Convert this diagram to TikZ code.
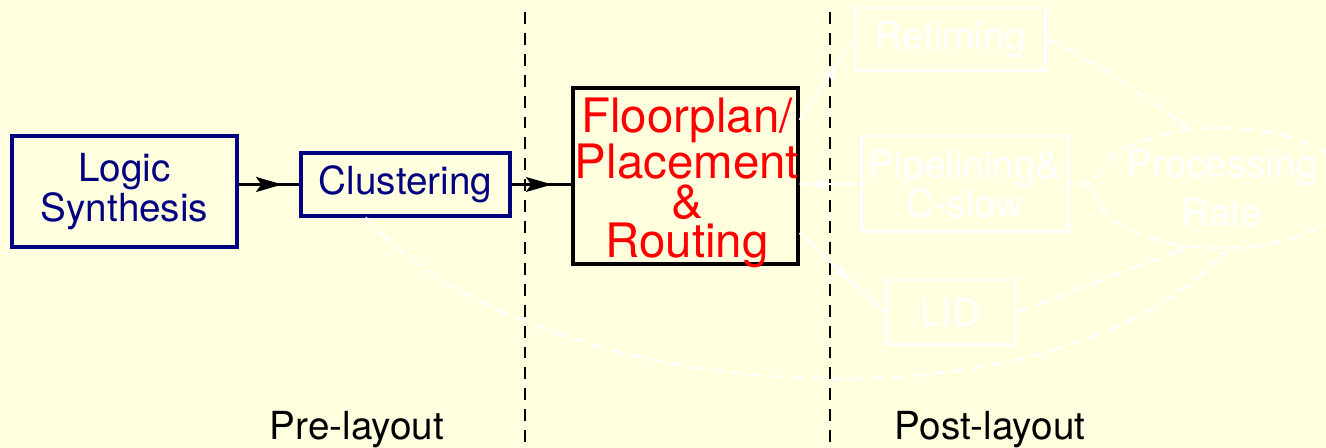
\documentclass[tikz,border=0pt]{standalone}
\usepackage{fontspec}
\setmainfont{TeX Gyre Heros}
\usetikzlibrary{arrows.meta,shapes.geometric,decorations.markings}
\definecolor{slidebg}{RGB}{255,255,224}
\definecolor{navyblue}{RGB}{0,0,128}
\begin{document}
\begin{tikzpicture}[x=0.02cm, y=-0.02cm, font=\fontsize{22}{22}\selectfont,
	flowbox/.style={draw=navyblue, line width=1.8pt, text=navyblue, inner sep=0pt, align=center},
	laterbox/.style={draw=white, line width=1.7pt, text=white, inner sep=0pt, align=center},
	divider/.style={line width=1.6pt, dash pattern=on 6.8pt off 5.1pt},
	blackarrow/.style={line width=1.2pt, postaction={decorate}, decoration={markings, mark=at position #1 with {\arrow{Stealth[length=15pt, width=8.5pt, inset=3pt]}}}},
	whitearrow/.style={white, line width=1.2pt, postaction={decorate}, decoration={markings, mark=at position #1 with {\arrow{Stealth[length=10pt, width=5.5pt, inset=2pt]}}}},
	feedback/.style={white, line width=1.4pt, dash pattern=on 7pt off 4.5pt, -{Stealth[length=6pt, width=5pt]}}]
	\fill[slidebg] (0,0) rectangle (1326,448);
	\useasboundingbox (0,0) rectangle (1326,448);
	\draw[divider] (525,12) -- (525,448);
	\draw[divider] (830,12) -- (830,448);
	\node[flowbox, minimum width=4.5cm, minimum height=2.22cm, font=\fontsize{22}{23}\selectfont] (synth) at (124.5,191.5) {Logic\\Synthesis};
	\node[flowbox, minimum width=4.18cm, minimum height=1.26cm] (clust) at (405.5,184.5) {Clustering};
	\node[draw, line width=1.8pt, minimum width=4.5cm, minimum height=3.52cm] (place) at (685.5,176) {};
	\node[text=red, inner sep=0pt, align=center, font=\fontsize{27}{22.5}\selectfont] (placetext) at (687,183) {Floorplan/\\Placement\\\&\\Routing};
	\node[laterbox, minimum width=3.82cm, minimum height=1.26cm] (ret) at (950.5,39.5) {Retiming};
	\node[laterbox, minimum width=4.16cm, minimum height=1.92cm, font=\fontsize{22}{20}\selectfont] (pipe) at (965,184) {Pipelining\&\\C-slow};
	\node[laterbox, minimum width=2.58cm, minimum height=1.3cm] (lid) at (950.5,312.5) {LID};
	\node[ellipse, draw=white, line width=1.4pt, dash pattern=on 7pt off 4.5pt, text=white, inner xsep=-0.1cm, inner ysep=0pt, align=center, minimum width=5.12cm, minimum height=2.4cm, font=\fontsize{22}{28}\selectfont] (rate) at (1222,188) {Processing\\Rate};
	\node[anchor=base] (pre) at (357,440) {Pre-layout};
	\node[anchor=base] (post) at (990,440) {Post-layout};
	\draw[blackarrow=0.72] (synth.east |- clust) -- (clust.west);
	\draw[blackarrow=0.68] (clust.east) -- (clust.east -| place.west);
	\draw[whitearrow=0.7] ([yshift=1.12cm]place.east) -- (ret.west);
	\draw[whitearrow=0.55] ([yshift=-0.16cm]place.east) -- (pipe.west);
	\draw[whitearrow=0.6] ([yshift=-1.14cm]place.east) -- (lid.west);
	\draw[feedback] (ret.east) .. controls (1110,70) and (1150,100) .. (rate.120);
	\draw[feedback] (pipe.east) -- (pipe.east -| rate.west);
	\draw[feedback] (lid.east) -- (rate.240);
	\draw[feedback] ([xshift=-0.8cm]clust.south) .. controls (540,410) and (1050,440) .. (rate.275);
\end{tikzpicture}
\end{document}
